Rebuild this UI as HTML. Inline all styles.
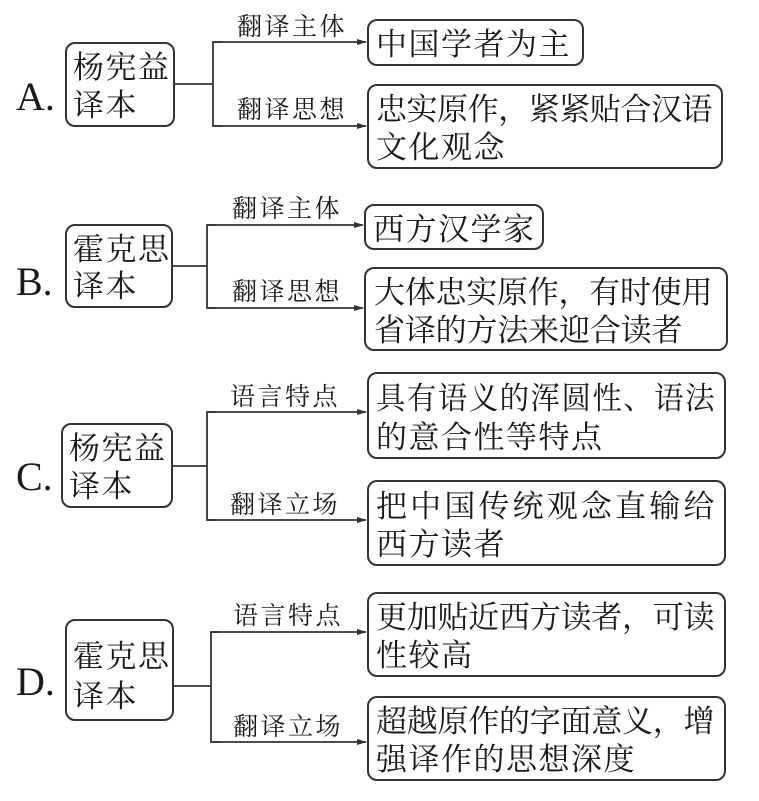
<!DOCTYPE html>
<html><head><meta charset="utf-8"><style>
body{margin:0;background:#fff}
svg text{font-family:"Liberation Serif","Noto Serif CJK SC",serif;fill:#1a1a1a}
.r{fill:none;stroke:#333;stroke-width:2}
.l{fill:none;stroke:#333;stroke-width:1.8}
.t{font-size:31px;letter-spacing:1.5px}
.s{font-size:25px;letter-spacing:2.5px}
.L{font-size:40px}
</style></head><body>
<svg width="759" height="796" viewBox="0 0 759 796" xmlns="http://www.w3.org/2000/svg">
<defs><marker id="a" markerWidth="10" markerHeight="8" refX="9" refY="4" orient="auto" markerUnits="userSpaceOnUse"><path d="M0,1 L10,4 L0,7z" fill="#333"/></marker></defs>

<!-- A -->
<text class="L" x="16" y="110">A.</text>
<rect class="r" x="66" y="43" width="108" height="83" rx="9"/>
<text class="t" x="73" y="78">杨宪益</text><text class="t" x="73" y="116">译本</text>
<path class="l" d="M174 84H213M222 42H213V126H222"/>
<path class="l" d="M213 42H366" marker-end="url(#a)"/><path class="l" d="M213 126H366" marker-end="url(#a)"/>
<text class="s" x="237" y="35">翻译主体</text><text class="s" x="237" y="118">翻译思想</text>
<rect class="r" x="368" y="20" width="215" height="45" rx="9"/>
<text class="t" x="376" y="55">中国学者为主</text>
<rect class="r" x="368" y="85" width="354" height="83" rx="9"/>
<text class="t" x="376" y="120" textLength="338" lengthAdjust="spacing">忠实原作，紧紧贴合汉语</text><text class="t" x="376" y="158">文化观念</text>

<!-- B -->
<text class="L" x="16" y="295">B.</text>
<rect class="r" x="66" y="225" width="106" height="82" rx="9"/>
<text class="t" x="73" y="260">霍克思</text><text class="t" x="73" y="297">译本</text>
<path class="l" d="M172 266H207M216 225H207V308H216"/>
<path class="l" d="M207 225H363" marker-end="url(#a)"/><path class="l" d="M207 308H363" marker-end="url(#a)"/>
<text class="s" x="232" y="217">翻译主体</text><text class="s" x="232" y="300">翻译思想</text>
<rect class="r" x="365" y="205" width="178" height="44" rx="9"/>
<text class="t" x="373" y="240">西方汉学家</text>
<rect class="r" x="365" y="268" width="362" height="82" rx="9"/>
<text class="t" x="374" y="303" textLength="340" lengthAdjust="spacing">大体忠实原作，有时使用</text><text class="t" x="374" y="341" textLength="310" lengthAdjust="spacing">省译的方法来迎合读者</text>

<!-- C -->
<text class="L" x="16" y="490">C.</text>
<rect class="r" x="62" y="424" width="110" height="83" rx="9"/>
<text class="t" x="69" y="459">杨宪益</text><text class="t" x="69" y="497">译本</text>
<path class="l" d="M172 466H207M216 412H207V520H216"/>
<path class="l" d="M207 412H366" marker-end="url(#a)"/><path class="l" d="M207 520H366" marker-end="url(#a)"/>
<text class="s" x="230" y="405">语言特点</text><text class="s" x="230" y="513">翻译立场</text>
<rect class="r" x="368" y="373" width="357" height="85" rx="9"/>
<text class="t" x="376" y="409" textLength="340" lengthAdjust="spacingAndGlyphs">具有语义的浑圆性、语法</text><text class="t" x="376" y="448">的意合性等特点</text>
<rect class="r" x="368" y="481" width="357" height="84" rx="9"/>
<text class="t" x="376" y="517" textLength="340" lengthAdjust="spacing">把中国传统观念直输给</text><text class="t" x="376" y="555">西方读者</text>

<!-- D -->
<text class="L" x="16" y="695">D.</text>
<rect class="r" x="66" y="620" width="107" height="100" rx="9"/>
<text class="t" x="73" y="667">霍克思</text><text class="t" x="73" y="707">译本</text>
<path class="l" d="M173 686H211M220 632H211V742H220"/>
<path class="l" d="M211 632H366" marker-end="url(#a)"/><path class="l" d="M211 742H366" marker-end="url(#a)"/>
<text class="s" x="233" y="624">语言特点</text><text class="s" x="233" y="735">翻译立场</text>
<rect class="r" x="368" y="593" width="357" height="83" rx="9"/>
<text class="t" x="376" y="628" textLength="340" lengthAdjust="spacing">更加贴近西方读者，可读</text><text class="t" x="376" y="666">性较高</text>
<rect class="r" x="368" y="697" width="357" height="83" rx="9"/>
<text class="t" x="376" y="732" textLength="340" lengthAdjust="spacing">超越原作的字面意义，增</text><text class="t" x="376" y="770">强译作的思想深度</text>
</svg>
</body></html>
